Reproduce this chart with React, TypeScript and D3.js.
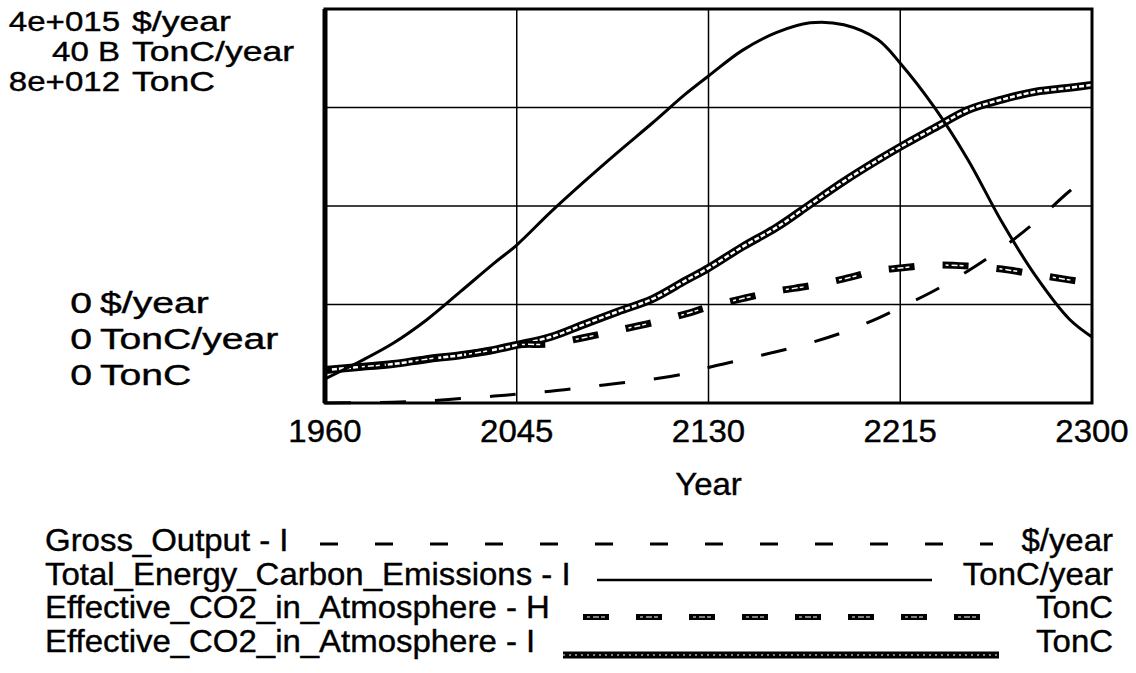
import { useEffect, useRef } from "react";
import * as d3 from "d3";

// sample years shared by all series
const years = [1960, 1975, 1990, 2005, 2020, 2035, 2045, 2060, 2075, 2090, 2105, 2120, 2130, 2145, 2160, 2175, 2190, 2205, 2215, 2230, 2245, 2260, 2275, 2290, 2300];

// Gross_Output - I, in 1e15 $/year
const grossOutput = [0, 0.003, 0.008, 0.02, 0.045, 0.07, 0.09, 0.12, 0.16, 0.2, 0.24, 0.3, 0.36, 0.44, 0.52, 0.61, 0.72, 0.86, 0.97, 1.14, 1.34, 1.57, 1.84, 2.15, 2.32];
// Total_Energy_Carbon_Emissions - I, in B TonC/year
const emissions = [2.44, 4.16, 6.04, 8.43, 11.3, 14.2, 16.04, 19.38, 22.5, 25.5, 28.4, 31.4, 33.2, 35.8, 37.6, 38.6, 38.4, 36.9, 34.5, 30.06, 24.7, 18.4, 12.9, 8.5, 6.7];
// Effective_CO2_in_Atmosphere - H, in 1e12 TonC
const co2H = [0.67, 0.73, 0.79, 0.89, 0.97, 1.08, 1.18, 1.2, 1.33, 1.48, 1.63, 1.81, 1.95, 2.12, 2.27, 2.38, 2.52, 2.69, 2.74, 2.8, 2.78, 2.72, 2.61, 2.5, 2.43];
// Effective_CO2_in_Atmosphere - I, in 1e12 TonC
const co2I = [0.67, 0.73, 0.79, 0.89, 0.97, 1.08, 1.18, 1.34, 1.6, 1.86, 2.11, 2.49, 2.74, 3.17, 3.56, 4.03, 4.5, 4.93, 5.2, 5.58, 5.95, 6.16, 6.32, 6.4, 6.46];

const xTicks = [1960, 2045, 2130, 2215, 2300];
const topLabels = [["4e+015", "$/year"], ["40 B", "TonC/year"], ["8e+012", "TonC"]];
const bottomLabels = [["0", "$/year"], ["0", "TonC/year"], ["0", "TonC"]];
const legendNames = ["Gross_Output - I", "Total_Energy_Carbon_Emissions - I", "Effective_CO2_in_Atmosphere - H", "Effective_CO2_in_Atmosphere - I"];
const legendUnits = ["$/year", "TonC/year", "TonC", "TonC"];

const W = 1136;
const H = 673;
const FONT = "'Liberation Sans', Arial, Helvetica, sans-serif";

export default function App() {
  const svgRef = useRef<SVGSVGElement | null>(null);

  useEffect(() => {
    if (!svgRef.current) return;
    const svg = d3.select(svgRef.current);
    svg.selectAll("*").remove();

    const left = 325, right = 1092, top = 9, bottom = 403;
    const x = d3.scaleLinear().domain([1960, 2300]).range([left, right]);
    const yGross = d3.scaleLinear().domain([0, 4]).range([bottom, top]);
    const yEm = d3.scaleLinear().domain([0, 40]).range([bottom, top]);
    const yCo2 = d3.scaleLinear().domain([0, 8]).range([bottom, top]);

    // scanned text is a bit wider than Arial, so stretch it horizontally
    const label = (tx: number, ty: number, s: string, anchor: string, size = 32, sx = 1.03) =>
      svg
        .append("g")
        .attr("transform", `translate(${tx},${ty}) scale(${sx},1)`)
        .append("text")
        .attr("text-anchor", anchor)
        .attr("font-family", FONT)
        .attr("font-size", size)
        .attr("fill", "#000")
        .attr("stroke", "#000")
        .attr("stroke-width", 0.4)
        .text(s);

    // grid
    const grid = svg.append("g").attr("stroke", "#000").attr("stroke-width", 1.5);
    grid
      .selectAll("line.v")
      .data(xTicks.slice(1, -1))
      .enter()
      .append("line")
      .attr("x1", (d) => x(d))
      .attr("x2", (d) => x(d))
      .attr("y1", top)
      .attr("y2", bottom);
    grid
      .selectAll("line.h")
      .data(yGross.ticks(4).slice(1, -1))
      .enter()
      .append("line")
      .attr("x1", left)
      .attr("x2", right)
      .attr("y1", (d) => yGross(d))
      .attr("y2", (d) => yGross(d));

    const mk = (ys: number[], sc: d3.ScaleLinear<number, number>) =>
      d3
        .line<number>()
        .x((_, i) => x(years[i]))
        .y((d) => sc(d))
        .curve(d3.curveCatmullRom.alpha(0.5))(ys);

    // Effective_CO2 - I: thick hollow band
    svg.append("path").attr("d", mk(co2I, yCo2)).attr("fill", "none").attr("stroke", "#000").attr("stroke-width", 8);
    svg.append("path").attr("d", mk(co2I, yCo2)).attr("fill", "none").attr("stroke", "#fff").attr("stroke-width", 2.5).attr("stroke-dasharray", "5 2");

    // Effective_CO2 - H: thick hollow dashes
    svg.append("path").attr("d", mk(co2H, yCo2)).attr("fill", "none").attr("stroke", "#000").attr("stroke-width", 7).attr("stroke-dasharray", "26 28").attr("stroke-dashoffset", 20);
    svg.append("path").attr("d", mk(co2H, yCo2)).attr("fill", "none").attr("stroke", "#fff").attr("stroke-width", 1.5).attr("stroke-dasharray", "3 3 6 2 4 36").attr("stroke-dashoffset", 17);

    // Gross_Output - I: thin dashes
    svg.append("path").attr("d", mk(grossOutput, yGross)).attr("fill", "none").attr("stroke", "#000").attr("stroke-width", 3).attr("stroke-dasharray", "26 29");

    // Total_Energy_Carbon_Emissions - I: thin solid
    svg.append("path").attr("d", mk(emissions, yEm)).attr("fill", "none").attr("stroke", "#000").attr("stroke-width", 3);

    // frame
    svg.append("rect").attr("x", left).attr("y", top).attr("width", right - left).attr("height", bottom - top).attr("fill", "none").attr("stroke", "#000").attr("stroke-width", 3);
    svg.append("line").attr("x1", left).attr("x2", left).attr("y1", top).attr("y2", bottom).attr("stroke", "#000").attr("stroke-width", 5);

    // x axis labels
    xTicks.forEach((t) => label(x(t), 442, String(t), "middle"));
    label((left + right) / 2, 495, "Year", "middle");

    // y axis labels
    topLabels.forEach(([n, u], i) => {
      label(120, 31 + i * 30, n, "end", 28, 1.18);
      label(132, 31 + i * 30, u, "start", 28, 1.27);
    });
    bottomLabels.forEach(([n, u], i) => {
      label(92, 313 + i * 36, n, "end", 29, 1.35);
      label(100, 313 + i * 36, u, "start", 29, 1.35);
    });

    // legend
    const textY = [551, 585, 618, 652];
    const lineY = [544, 580, 617, 655];
    const lx0 = [320, 597, 583, 563];
    const lx1 = [993, 932, 997, 999];
    legendNames.forEach((n, i) => {
      label(45, textY[i], n, "start");
      label(1113, textY[i], legendUnits[i], "end");
    });
    const seg = (i: number) => svg.append("line").attr("x1", lx0[i]).attr("x2", lx1[i]).attr("y1", lineY[i]).attr("y2", lineY[i]).attr("fill", "none");
    seg(0).attr("stroke", "#000").attr("stroke-width", 3).attr("stroke-dasharray", "18 37");
    seg(1).attr("stroke", "#000").attr("stroke-width", 2.5);
    seg(2).attr("stroke", "#000").attr("stroke-width", 6).attr("stroke-dasharray", "26 27");
    seg(2).attr("stroke", "#fff").attr("stroke-width", 1).attr("stroke-dasharray", "3 3 6 2 4 35").attr("stroke-dashoffset", -4);
    seg(3).attr("stroke", "#000").attr("stroke-width", 7);
    seg(3).attr("stroke", "#fff").attr("stroke-width", 1.2).attr("stroke-dasharray", "2 4");
  }, []);

  return <svg ref={svgRef} width={W} height={H} style={{ position: "absolute", left: 0, top: 0, background: "#fff" }}></svg>;
}
